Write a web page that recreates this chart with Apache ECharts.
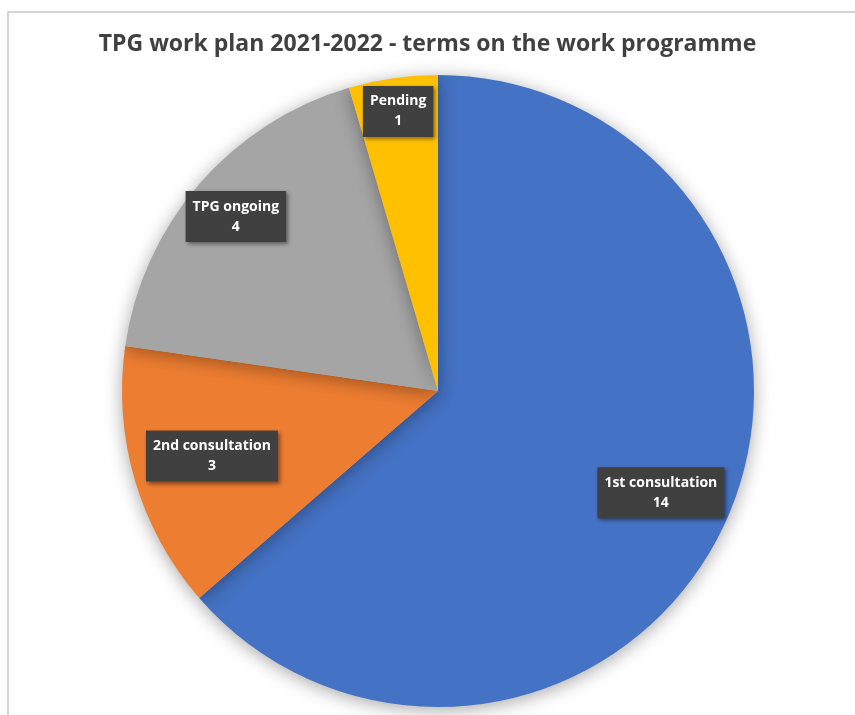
<!DOCTYPE html>
<html>
<head>
<meta charset="utf-8">
<script src="https://cdn.jsdelivr.net/npm/echarts@6/dist/echarts.min.js"></script>
<style>
html,body{margin:0;padding:0;background:#fff;}
#c{width:855px;height:715px;}
</style>
</head>
<body>
<div id="c"></div>
<script>
var titleText = 'TPG work plan 2021-2022 - terms on the work programme';
var categories = ['1st consultation', '2nd consultation', 'TPG ongoing', 'Pending'];
var values = [14, 3, 4, 1];
var colors = ['#4472C4', '#ED7D31', '#A5A5A5', '#FFC000'];

var FONT = '"Open Sans", sans-serif';
var labelShift = [[0, 0], [9, -4], [-17, -14], [-5, -37]];

var data = categories.map(function (c, i) {
  return { name: c, value: values[i], itemStyle: { color: colors[i] } };
});

var chart = echarts.init(document.getElementById('c'), null, { renderer: 'canvas' });
chart.setOption({
  animation: false,
  backgroundColor: '#ffffff',
  title: {
    text: titleText,
    left: 'center',
    top: 28,
    textStyle: { fontFamily: FONT, fontSize: 23, fontWeight: 'bold', color: '#404040' }
  },
  graphic: [{
    type: 'rect',
    shape: { x: 8, y: 12, width: 900, height: 800 },
    style: { fill: 'none', stroke: '#c8c8c8', lineWidth: 1.5 },
    silent: true
  }],
  series: [{
    type: 'pie',
    center: [438, 391],
    radius: [0, 316],
    startAngle: 90,
    clockwise: true,
    data: data,
    label: { show: false },
    labelLine: { show: false },
    itemStyle: {
      shadowBlur: 18,
      shadowColor: 'rgba(0,0,0,0.35)',
      shadowOffsetY: 3
    },
    emphasis: { disabled: true }
  }, {
    type: 'pie',
    center: [438, 391],
    radius: [168, 316],
    startAngle: 90,
    clockwise: true,
    silent: true,
    data: data.map(function (d) { return { name: d.name, value: d.value }; }),
    itemStyle: { color: 'rgba(0,0,0,0)' },
    labelLine: { show: false },
    label: {
      show: true,
      position: 'inside',
      formatter: '{b}\n{c}',
      fontFamily: FONT,
      fontSize: 14,
      fontWeight: 'bold',
      lineHeight: 20,
      color: '#ffffff',
      align: 'center',
      backgroundColor: '#404040',
      padding: [6, 7, 5, 7],
      shadowColor: 'rgba(0,0,0,0.45)',
      shadowBlur: 4,
      shadowOffsetX: 2,
      shadowOffsetY: 2
    },
    labelLayout: function (p) {
      var s = labelShift[p.dataIndex] || [0, 0];
      return { dx: s[0], dy: s[1] };
    },
    emphasis: { disabled: true }
  }]
});
</script>
</body>
</html>
